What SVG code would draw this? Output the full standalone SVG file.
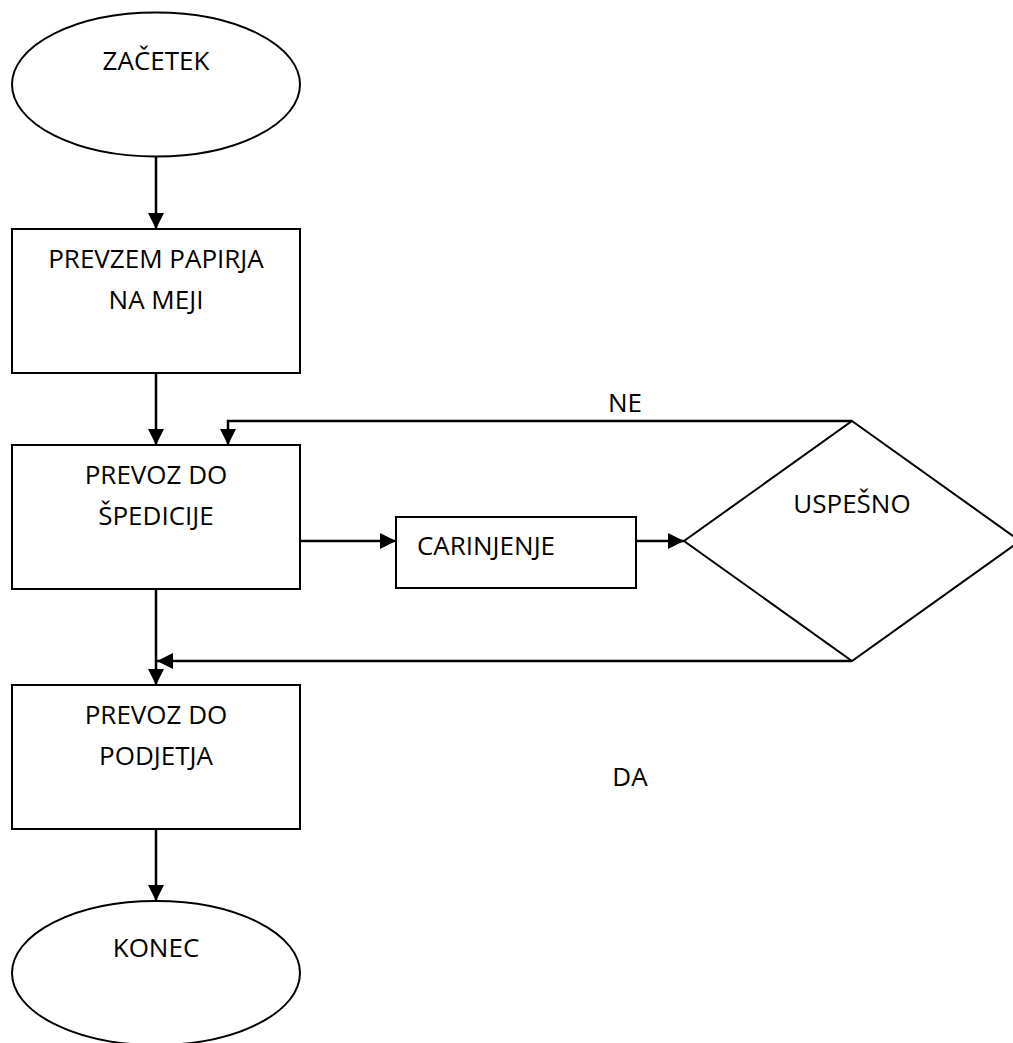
<svg xmlns="http://www.w3.org/2000/svg" width="1013" height="1043" viewBox="0 0 1013 1043">
<defs>
<marker id="ah" markerUnits="userSpaceOnUse" markerWidth="16" markerHeight="16" refX="16" refY="8" orient="auto">
<path d="M0,0 L16,8 L0,16 z" fill="#000"/>
</marker>
</defs>
<style>
.s{fill:#fff;stroke:#000;stroke-width:2}
.t{font-family:"Open Sans","Noto Sans",sans-serif;font-size:26px;fill:#000;text-anchor:middle}
.c{fill:none;stroke:#000;stroke-width:2.5}
</style>
<rect width="1013" height="1043" fill="#fff"/>
<g id="connectors">
<line class="c" x1="156" y1="157" x2="156" y2="229" marker-end="url(#ah)"/>
<line class="c" x1="156" y1="373" x2="156" y2="445" marker-end="url(#ah)"/>
<polyline class="c" points="852,421 228,421 228,445" marker-end="url(#ah)"/>
<line class="c" x1="300" y1="541" x2="396" y2="541" marker-end="url(#ah)"/>
<line class="c" x1="636" y1="541" x2="684" y2="541" marker-end="url(#ah)"/>
<line class="c" x1="852" y1="661" x2="157" y2="661" marker-end="url(#ah)"/>
<line class="c" x1="156" y1="589" x2="156" y2="685" marker-end="url(#ah)"/>
<line class="c" x1="156" y1="829" x2="156" y2="901" marker-end="url(#ah)"/>
<text class="t" x="625" y="412">NE</text>
<text class="t" x="630" y="786">DA</text>
</g>
<g id="zacetek">
<ellipse class="s" cx="156" cy="84.5" rx="144" ry="72"/>
<text class="t" x="156" y="70">ZAČETEK</text>
</g>
<g id="prevzem">
<rect class="s" x="12" y="229" width="288" height="144"/>
<text class="t" x="156" y="268">PREVZEM PAPIRJA</text>
<text class="t" x="156" y="309">NA MEJI</text>
</g>
<g id="prevoz-spedicija">
<rect class="s" x="12" y="445" width="288" height="144"/>
<text class="t" x="156" y="484">PREVOZ DO</text>
<text class="t" x="156" y="525">ŠPEDICIJE</text>
</g>
<g id="carinjenje">
<rect class="s" x="396" y="517" width="240" height="71"/>
<text class="t" x="486" y="555">CARINJENJE</text>
</g>
<g id="uspesno">
<polygon class="s" points="852,421 1020,541 852,661 684,541"/>
<text class="t" x="852" y="513">USPEŠNO</text>
</g>
<g id="prevoz-podjetje">
<rect class="s" x="12" y="685" width="288" height="144"/>
<text class="t" x="156" y="724">PREVOZ DO</text>
<text class="t" x="156" y="765">PODJETJA</text>
</g>
<g id="konec">
<ellipse class="s" cx="156" cy="973" rx="144" ry="72"/>
<text class="t" x="156" y="957">KONEC</text>
</g>
</svg>
